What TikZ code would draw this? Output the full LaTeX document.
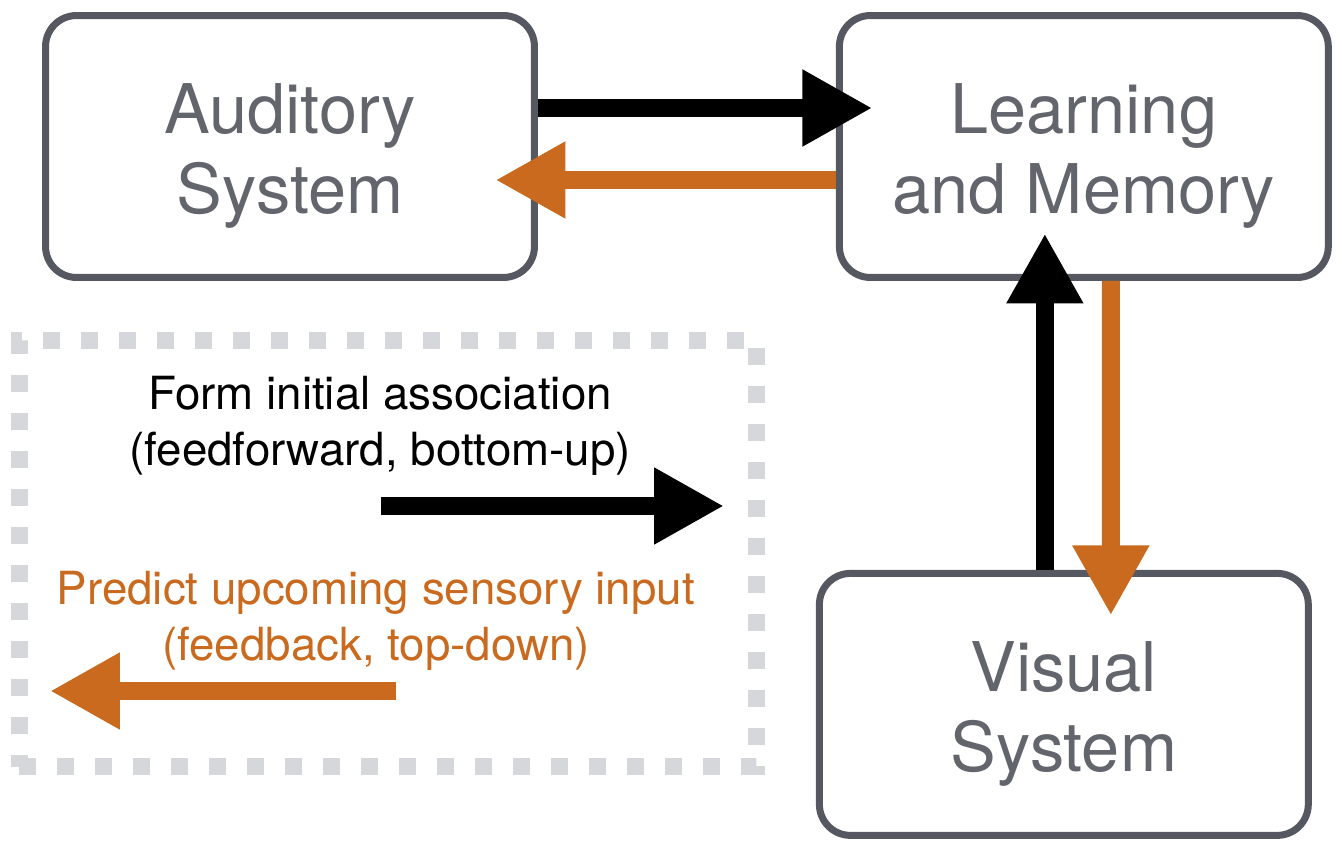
\documentclass[tikz,border=0pt]{standalone}
\usepackage{fontspec}
\setmainfont{TeX Gyre Heros}
\usetikzlibrary{arrows.meta, positioning}
\definecolor{BoxGray}{RGB}{85, 88, 96}
\definecolor{FBorange}{RGB}{201, 106, 31}
\definecolor{DashGray}{RGB}{214, 215, 218}
\tikzset{
    sysbox/.style={
        rectangle,
        rounded corners=0.62cm,
        draw=BoxGray,
        line width=0.14cm,
        fill=white,
        text=BoxGray!92,
        align=center,
        minimum width=9.78cm,
        minimum height=5.24cm,
        text height=85pt,
        font=\fontsize{39}{45.5}\selectfont
    },
    fwdarrow/.style={
        -{Triangle[length=1.4cm, width=1.44cm]},
        line width=0.36cm,
        color=black
    },
    fbarrow/.style={
        -{Triangle[length=1.4cm, width=1.44cm]},
        line width=0.36cm,
        color=FBorange
    },
    % legend frame and texts
    legendframe/.style={
        rectangle,
        draw=DashGray,
        line width=0.34cm,
        dash pattern=on 0.34cm off 0.42cm,
        minimum width=14.76cm,
        minimum height=8.54cm
    },
    legendtext/.style={
        align=center,
        font=\fontsize{26}{32}\selectfont
    }
}

\begin{document}
\begin{tikzpicture}[x=0.02cm, y=-0.02cm]
    \useasboundingbox (0,0) rectangle (1342,844);

    \node[sysbox] (aud) at (290,146.5) {Auditory\\System};
    \node[sysbox, right=5.96cm of aud] (learn) {Learning\\and Memory};
    \node[sysbox, below=5.78cm of learn, xshift=-0.4cm] (vis) {Visual\\System};

    \draw[fwdarrow] ([yshift=0.77cm]aud.east) -- ([xshift=0.73cm, yshift=0.77cm]learn.west);
    \draw[fbarrow] ([yshift=-0.67cm]learn.west) -- ([xshift=-0.85cm, yshift=-0.67cm]aud.east);
    \draw[fwdarrow] ([xshift=-0.38cm]vis.north) -- ([xshift=-0.78cm, yshift=0.95cm]learn.south);
    \draw[fbarrow] ([xshift=0.54cm]learn.south) -- ([xshift=0.94cm, yshift=-0.91cm]vis.north);

    % legend
    \node[legendframe] (legend) at (388,553.5) {};
    \node[legendtext, text=black] (fwdtext) at (380,426) {Form initial association\\(feedforward, bottom-up)};
    \node[legendtext, text=FBorange] (fbtext) at (376,621) {Predict upcoming sensory input\\(feedback, top-down)};
    \coordinate (fwdtail) at (381,506);
    \coordinate (fwdtip) at (724,506);
    \coordinate (fbtail) at (396,691);
    \coordinate (fbtip) at (50,691);
    \draw[fwdarrow] (fwdtail) -- (fwdtip);
    \draw[fbarrow] (fbtail) -- (fbtip);
\end{tikzpicture}
\end{document}
